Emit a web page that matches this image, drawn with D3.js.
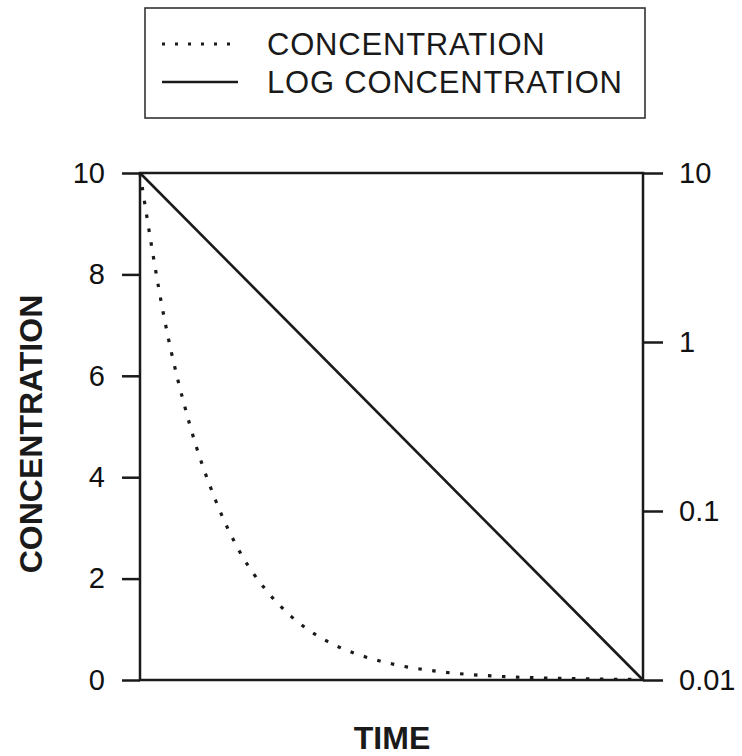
<!DOCTYPE html>
<html>
<head>
<meta charset="utf-8">
<script src="https://cdn.jsdelivr.net/npm/d3@7"></script>
<style>
  body { margin: 0; background: #fff; }
  svg { display: block; }
  .tick text { font-family: "Liberation Sans", Arial, sans-serif; fill: #111; }
</style>
</head>
<body>
<svg id="chart" width="742" height="756"></svg>
<script>
// values (time in arbitrary units, no ticks shown)
const time = [0, 0.5, 1, 1.5, 2, 2.5, 3, 3.5, 4, 4.5, 5, 6, 7, 8, 9, 10];
const concentration = [10, 7.05, 5.0, 3.55, 2.5, 1.78, 1.26, 0.89, 0.63, 0.45, 0.32, 0.16, 0.08, 0.04, 0.02, 0.01];
const logTime = [0, 10];
const logConcentration = [10, 0.01];
const leftTicks = [0, 2, 4, 6, 8, 10];
const rightTicks = [0.01, 0.1, 1, 10];
const legendLabels = ["CONCENTRATION", "LOG CONCENTRATION"];

const svg = d3.select("#chart");
const ink = "#1a1a1a";

const xScale = d3.scaleLinear().domain([0, 10]).range([140, 643]);
const yLeft = d3.scaleLinear().domain([0, 10]).range([680, 173]);
const yRight = d3.scaleLog().domain([0.01, 10]).range([680, 173]);

// frame
svg.append("rect")
    .attr("x", xScale.range()[0])
    .attr("y", yLeft.range()[1])
    .attr("width", xScale.range()[1] - xScale.range()[0])
    .attr("height", yLeft.range()[0] - yLeft.range()[1])
    .attr("fill", "none")
    .attr("stroke", ink)
    .attr("stroke-width", 2.5);

// left axis
const gLeft = svg.append("g")
    .attr("transform", `translate(${xScale.range()[0]},0)`)
    .call(d3.axisLeft(yLeft).tickValues(leftTicks).tickSize(18).tickPadding(17).tickFormat(d3.format("d")));
gLeft.select(".domain").remove();
gLeft.selectAll(".tick line").attr("stroke", ink).attr("stroke-width", 2.5);
gLeft.selectAll(".tick text").attr("font-size", 29);

// right axis
const gRight = svg.append("g")
    .attr("transform", `translate(${xScale.range()[1]},0)`)
    .call(d3.axisRight(yRight).tickValues(rightTicks).tickSize(20).tickPadding(16).tickFormat(d => String(d)));
gRight.select(".domain").remove();
gRight.selectAll(".tick line").attr("stroke", ink).attr("stroke-width", 2.5);
gRight.selectAll(".tick text").attr("font-size", 29);

// concentration (dotted, left linear axis)
const line = d3.line()
    .curve(d3.curveMonotoneX)
    .x((d, i) => xScale(time[i]))
    .y(d => yLeft(d));

svg.append("path")
    .attr("fill", "none")
    .attr("stroke", ink)
    .attr("stroke-width", 3.2)
    .attr("stroke-dasharray", "3.5 10.5")
    .attr("d", line(concentration));

// log concentration (solid, right log axis)
const logLine = d3.line()
    .x((d, i) => xScale(logTime[i]))
    .y(d => yRight(d));

svg.append("path")
    .attr("fill", "none")
    .attr("stroke", ink)
    .attr("stroke-width", 2.6)
    .attr("d", logLine(logConcentration));

// axis titles
svg.append("text")
    .attr("transform", "translate(42,434) rotate(-90)")
    .attr("text-anchor", "middle")
    .attr("font-family", "Liberation Sans, Arial, sans-serif")
    .attr("font-weight", "bold")
    .attr("font-size", 32)
    .attr("fill", ink)
    .text("CONCENTRATION");

svg.append("text")
    .attr("x", 392)
    .attr("y", 749)
    .attr("text-anchor", "middle")
    .attr("font-family", "Liberation Sans, Arial, sans-serif")
    .attr("font-weight", "bold")
    .attr("font-size", 32)
    .attr("fill", ink)
    .text("TIME");

// legend
const legend = svg.append("g");
legend.append("rect")
    .attr("x", 145).attr("y", 8)
    .attr("width", 500).attr("height", 110)
    .attr("fill", "none")
    .attr("stroke", "#333")
    .attr("stroke-width", 1.6);

const rows = legend.selectAll("g.row")
    .data(legendLabels)
    .join("g")
    .attr("class", "row")
    .attr("transform", (d, i) => `translate(0,${i === 0 ? 44 : 82})`);

rows.append("line")
    .attr("x1", 162).attr("x2", 238)
    .attr("stroke", ink)
    .attr("stroke-width", (d, i) => i === 0 ? 3 : 2.6)
    .attr("stroke-dasharray", (d, i) => i === 0 ? "3 10" : null);

rows.append("text")
    .attr("x", 267)
    .attr("y", 11)
    .attr("font-family", "Liberation Sans, Arial, sans-serif")
    .attr("font-size", 31)
    .attr("letter-spacing", 0.8)
    .attr("fill", ink)
    .text(d => d);
</script>
</body>
</html>
